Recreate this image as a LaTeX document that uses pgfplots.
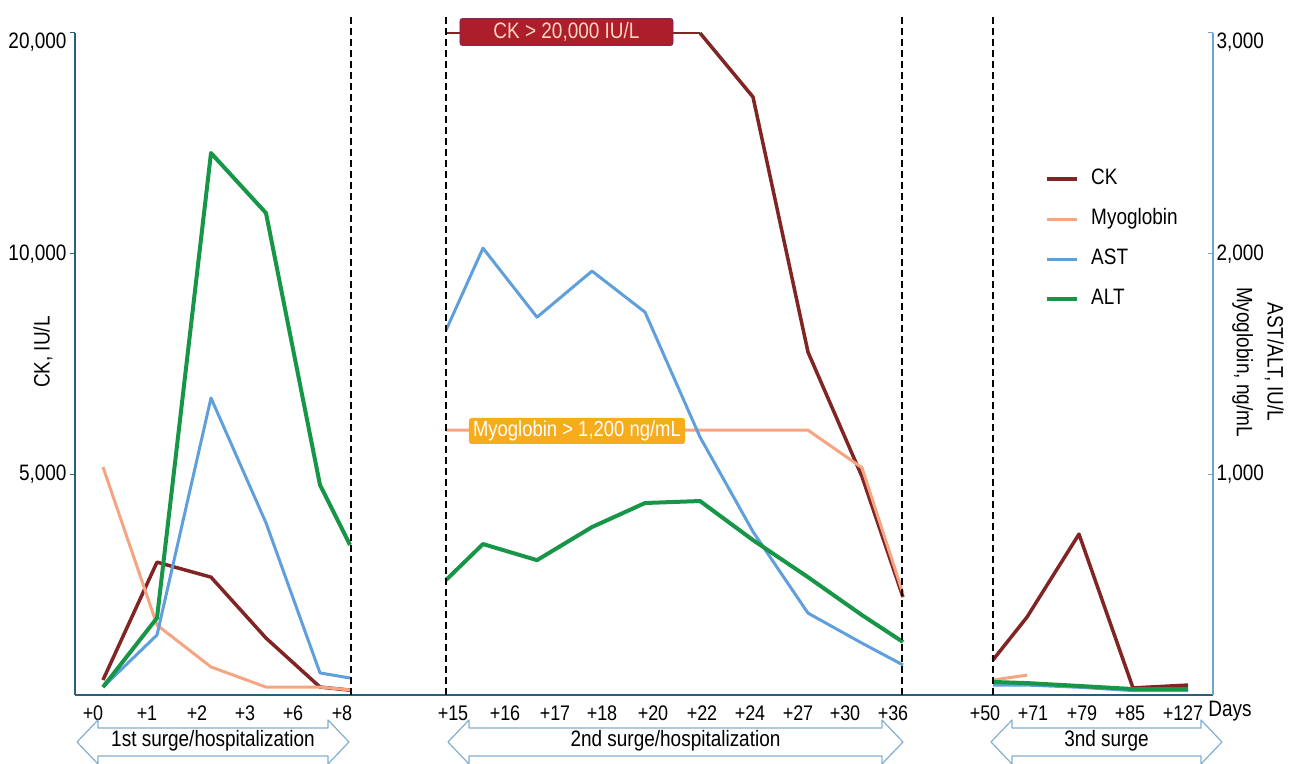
\documentclass[border=0pt]{standalone}
\usepackage{pgfplots}
\pgfplotsset{compat=1.18}
\usepackage{fontspec}
\setmainfont{Liberation Sans}[FakeStretch=0.85]
\definecolor{ckc}{RGB}{128,36,36}
\definecolor{myoc}{RGB}{245,165,130}
\definecolor{astc}{RGB}{95,160,220}
\definecolor{altc}{RGB}{22,150,70}
\definecolor{boxred}{RGB}{172,30,42}
\definecolor{boxedge}{RGB}{120,40,90}
\definecolor{boxtxt}{RGB}{250,215,195}
\definecolor{myobox}{RGB}{246,172,28}
\definecolor{arrowc}{RGB}{130,175,210}
\definecolor{laxis}{RGB}{40,95,125}
\definecolor{raxis}{RGB}{110,165,205}
\newcommand{\lab}{\fontsize{22.4}{25}\selectfont}
\newcommand{\tlab}{\fontsize{21.2}{24}\selectfont}
\newcommand{\twentyk}{20,000}
\newcommand{\threek}{3,000}
\pgfplotsset{
  ckstyle/.style={ckc, line width=3.5bp, line join=round},
  ckmap/.style={y filter/.expression={y<10001 ? y/5 : 2000+(y-10000)/10}},
  myostyle/.style={myoc, line width=3bp, line join=round},
  aststyle/.style={astc, line width=3bp, line join=round},
  altstyle/.style={altc, line width=4bp, line join=round},
}
\begin{document}
\begin{tikzpicture}
\useasboundingbox (-75bp,-69bp) rectangle (1220bp,695bp);
\begin{axis}[
  at={(0,0)}, anchor=south west,
  width=1138bp, height=662bp, scale only axis,
  xmin=75, xmax=1213, ymin=0, ymax=3000,
  clip=false,
  axis x line*=bottom, axis y line*=left,
  axis line style={laxis, line width=1.2bp, -},
  tick align=outside, major tick length=5bp,
  xtick={93,147,197,245,293,342,453,505,555,602,653,702,750,798,845,893,985,1033,1082,1130,1183},
  xticklabels={+0,+1,+2,+3,+6,+8,+15,+16,+17,+18,+20,+22,+24,+27,+30,+36,+50,+71,+79,+85,+127},
  xtick style={draw=none},
  xticklabel style={font=\tlab, anchor=north, inner sep=0bp, yshift=-6bp},
  xlabel={Days},
  every axis x label/.style={at={(axis description cs:1.0149,0)}, anchor=north, inner sep=0bp, yshift=-6bp, font=\lab},
  ytick={1000,2000}, yticklabels={{5,000},{10,000}},
  extra y ticks={3000}, extra y tick labels={\twentyk},
  extra y tick style={yticklabel style={yshift=-9bp}},
  ytick style={laxis, line width=1bp},
  yticklabel style={font=\lab},
  ylabel={CK, IU/L},
  every axis y label/.style={at={(axis description cs:-0.0281,0.518)}, anchor=center, rotate=90, font=\lab},
  legend style={at={(axis description cs:0.8524,0.796)}, anchor=north west, draw=none, fill=none, font=\lab, inner xsep=0bp, inner ysep=0bp, row sep=18bp, nodes={inner sep=2bp, text height=14bp, text depth=4bp}, /tikz/every odd column/.append style={column sep=10bp}},
  legend cell align=left,
  legend image code/.code={\draw[#1] (0bp,0bp) -- (30bp,0bp);},
]
\addlegendimage{ckstyle}\addlegendentry{CK}
\addlegendimage{myostyle}\addlegendentry{Myoglobin}
\addlegendimage{aststyle}\addlegendentry{AST}
\addlegendimage{altstyle}\addlegendentry{ALT}

% ---- CK (IU/L), mapped onto the broken left scale ----
\addplot[ckstyle, ckmap, forget plot] table {
x y
103 340
157 3010
211 2670
266 1290
320 180
350 110
};
\addplot[ckc, line width=1.3bp, ckmap, forget plot] table {
x y
446 20000
483 20000
537 20000
592 20000
645 20000
700 20000
};
\addplot[ckstyle, ckmap, forget plot] table {
x y
700 20000
753 17100
808 7770
862 4950
903 2220
};
\addplot[ckstyle, ckmap, forget plot] table {
x y
993 795
1027 1765
1079 3645
1133 160
1188 225
};
% ---- Myoglobin (ng/mL) ----
\addplot[myostyle, forget plot] table {
x y
103 1033
157 317
211 127
266 36
320 36
350 23
};
\addplot[myostyle, forget plot] table {
x y
446 1200
483 1200
537 1200
592 1200
645 1200
700 1200
753 1200
808 1200
862 1030
903 460
};
\addplot[myostyle, forget plot] table {
x y
993 68
1027 90
};
% ---- AST (IU/L) ----
\addplot[aststyle, forget plot] table {
x y
103 36
157 272
211 1346
266 780
320 100
350 77
};
\addplot[aststyle, forget plot] table {
x y
446 1653
483 2025
537 1712
592 1921
645 1735
700 1169
753 740
808 371
862 235
903 136
};
\addplot[aststyle, forget plot] table {
x y
993 45
1027 45
1079 35
1133 20
1188 20
};
% ---- ALT (IU/L) ----
\addplot[altstyle, forget plot] table {
x y
103 36
157 349
211 2456
266 2184
320 952
350 680
};
\addplot[altstyle, forget plot] table {
x y
446 521
483 684
537 611
592 761
645 870
700 879
753 702
808 534
862 362
903 240
};
\addplot[altstyle, forget plot] table {
x y
993 59
1027 54
1079 41
1133 27
1188 27
};
\end{axis}
\begin{axis}[
  at={(0,0)}, anchor=south west,
  width=1138bp, height=662bp, scale only axis,
  xmin=75, xmax=1213, ymin=0, ymax=3000,
  axis y line*=right, axis x line=none,
  axis line style={raxis, line width=1.2bp, -},
  tick align=inside, major tick length=5bp,
  ytick={1000,2000}, yticklabels={{1,000},{2,000}},
  extra y ticks={3000}, extra y tick labels={\threek},
  extra y tick style={yticklabel style={yshift=-9bp}},
  ytick style={raxis, line width=1bp},
  yticklabel style={font=\lab},
  ylabel={AST/ALT, IU/L\\Myoglobin, ng/mL},
  every axis y label/.style={at={(axis description cs:1.0395,0.503)}, anchor=center, rotate=-90, align=center, font=\fontsize{22.4}{31}\selectfont},
]
\end{axis}
\begin{scope}[x=1bp, y=-1bp, shift={(-75bp,695bp)}]
  \foreach \xx in {351.5,446,902,993}{
    \draw[black, line width=2bp, dash pattern=on 7bp off 4bp] (\xx,695) -- (\xx,13);
  }
  \node[fill=boxred, draw=boxedge, rounded corners=2.5bp, line width=0.8bp, text=boxtxt, font=\lab, minimum width=213bp, minimum height=27bp, inner sep=0bp] at (566.5,32) {CK > 20,000 IU/L};
  \node[fill=myobox, rounded corners=2.5bp, text=white, font=\fontsize{21.8}{24}\selectfont, minimum width=216bp, minimum height=26bp, inner sep=0bp] at (577,431) {Myoglobin > 1,200 ng/mL};
  \newcommand\dblarrow[3]{%
    \draw[arrowc, line width=1.2bp, fill=white, line join=round]
      (#1,742) -- (#1+21,720) -- (#1+21,728) -- (#2-21,728) -- (#2-21,720) -- (#2,742)
      -- (#2-21,764) -- (#2-21,756) -- (#1+21,756) -- (#1+21,764) -- cycle;
    \node[font=\lab, inner sep=0bp] at ({(#1+#2)/2},741) {#3};
  }
  \dblarrow{77}{349}{1st surge/hospitalization}
  \dblarrow{448}{903}{2nd surge/hospitalization}
  \dblarrow{991}{1222}{3nd surge}
\end{scope}
\end{tikzpicture}
\end{document}
